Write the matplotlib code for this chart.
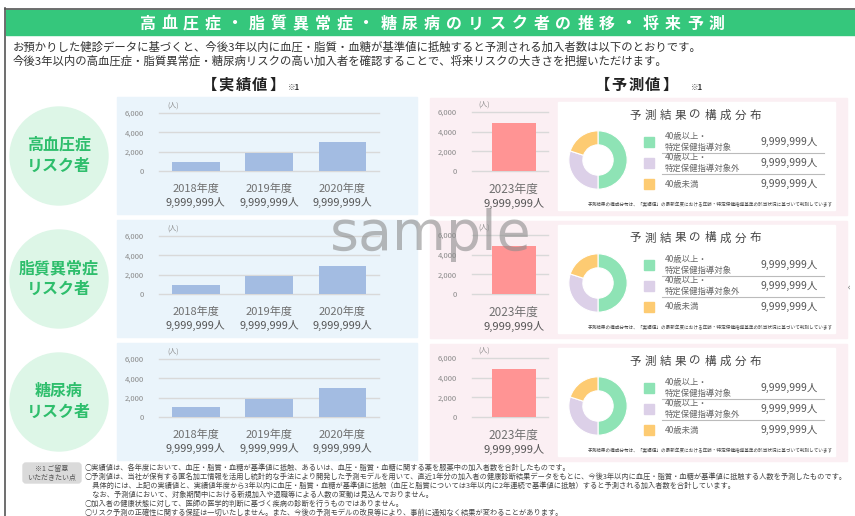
import matplotlib.pyplot as plt
from matplotlib.patches import Rectangle, Circle, FancyBboxPatch

plt.rcParams['font.family'] = ['Noto Sans CJK JP', 'DejaVu Sans']

W, H = 855, 516

# ---- data ----
title = '高血圧症・脂質異常症・糖尿病のリスク者の推移・将来予測'
intro = ['お預かりした健診データに基づくと、今後3年以内に血圧・脂質・血糖が基準値に抵触すると予測される加入者数は以下のとおりです。',
         '今後3年以内の高血圧症・脂質異常症・糖尿病リスクの高い加入者を確認することで、将来リスクの大きさを把握いただけます。']
risk_names = ['高血圧症', '脂質異常症', '糖尿病']
years = ['2018年度', '2019年度', '2020年度']
forecast_year = '2023年度'
hypertension_actual = [950, 1900, 2950]
dyslipidemia_actual = [900, 1900, 2900]
diabetes_actual = [1000, 1900, 2950]
forecast_values = [4850, 4850, 4850]
actual_counts = ['9,999,999人', '9,999,999人', '9,999,999人']
forecast_count = '9,999,999人'
yticks = [0, 2000, 4000, 6000]
mix_labels = ['40歳以上・\n特定保健指導対象', '40歳以上・\n特定保健指導対象外', '40歳未満']
mix_shares = [50, 30, 20]
mix_counts = ['9,999,999人', '9,999,999人', '9,999,999人']
mix_colors = ['#8EE3B5', '#DCD0E8', '#FDCB72']
mix_note = '予測結果の構成分布は、「実績値」の最新年度における年齢・特定保健指導基準の該当状況に基づいて判別しています'
notes = ['○実績値は、各年度において、血圧・脂質・血糖が基準値に抵触、あるいは、血圧・脂質・血糖に関する薬を服薬中の加入者数を合計したものです。',
         '○予測値は、当社が保有する匿名加工情報を活用し統計的な手法により開発した予測モデルを用いて、直近1年分の加入者の健康診断結果データをもとに、今後3年以内に血圧・脂質・血糖が基準値に抵触する人数を予測したものです。',
         '　具体的には、上記の実績値と、実績値年度から3年以内に血圧・脂質・血糖が基準値に抵触（血圧と脂質については3年以内に2年連続で基準値に抵触）すると予測される加入者数を合計しています。',
         '　なお、予測値において、対象期間中における新規加入や退職等による人数の変動は見込んでおりません。',
         '○加入者の健康状態に対して、医師の医学的判断に基づく疾病の診断を行うものではありません。',
         '○リスク予測の正確性に関する保証は一切いたしません。また、今後の予測モデルの改良等により、事前に通知なく結果が変わることがあります。']
actual_rows = [hypertension_actual, dyslipidemia_actual, diabetes_actual]

fig = plt.figure(figsize=(8.55, 5.16), dpi=100)
bg = fig.add_axes([0, 0, 1, 1])
bg.set_xlim(0, W)
bg.set_ylim(H, 0)
bg.axis('off')


def box(x0, y0, x1, y1):
    # axes placed in pixel coords (top-left origin)
    return fig.add_axes([x0 / W, 1 - y1 / H, (x1 - x0) / W, (y1 - y0) / H])


def spaced(x, y, s, step, **kw):
    x0 = x - step * (len(s) - 1) / 2
    for i, ch in enumerate(s):
        bg.text(x0 + i * step, y, ch, ha='center', va='center', **kw)


def style_bar_axes(ax):
    ax.set_ylim(0, 6000)
    ax.set_yticks(yticks, [f'{v:,}' for v in yticks])
    ax.yaxis.grid(True, color='#D9D9D9', lw=1)
    for gl in ax.get_ygridlines():
        gl.set_clip_on(False)
    ax.set_axisbelow(True)
    ax.tick_params(axis='y', length=0, pad=11, labelsize=5.5, labelcolor='#8A8A8A')
    ax.set_xticks([])
    for s in ax.spines.values():
        s.set_visible(False)
    ax.patch.set_alpha(0)


# frame and header
bg.plot([5, 5], [8, H], color='#555555', lw=1.2)
bg.plot([5, W], [8.5, 8.5], color='#555555', lw=1.2)
bg.add_patch(Rectangle((6, 10), W - 6, 25, color='#35C77C'))
spaced(432, 23.5, title, 21.9, fontsize=11.5, color='white', fontweight='bold')

for i, line in enumerate(intro):
    bg.text(13, 47 + 14 * i, line, fontsize=8.2, color='#333333', va='center')

spaced(243, 85, '【実績値】', 17, fontsize=11, color='#222222', fontweight='bold')
bg.text(294, 87, '※1', fontsize=5.5, color='#333333', fontweight='bold', ha='center', va='center')
spaced(636, 85, '【予測値】', 17, fontsize=11, color='#222222', fontweight='bold')
bg.text(697, 87, '※1', fontsize=5.5, color='#333333', fontweight='bold', ha='center', va='center')

for r in range(3):
    dy = 123 * r
    # left circle
    bg.add_patch(Circle((59, 156 + dy), 49, color='#DDF6E7'))
    bg.text(59, 145 + dy, risk_names[r], fontsize=11.5, color='#2EBE6C', fontweight='bold',
            ha='center', va='center')
    bg.text(59, 166 + dy, 'リスク者', fontsize=11.5, color='#2EBE6C', fontweight='bold',
            ha='center', va='center')

    # panels
    bg.add_patch(Rectangle((117, 97 + dy), 300, 117, color='#EAF4FB'))
    bg.add_patch(Rectangle((430, 98 + dy), 417, 117, color='#FBEFF3'))
    bg.add_patch(Rectangle((558, 102 + dy), 277, 108, color='white'))

    # actual bars
    ax = box(159, 113 + dy, 379, 171 + dy)
    vals = actual_rows[r]
    ax.bar(range(len(vals)), vals, width=0.65, color='#A3BCE2')
    ax.set_xlim(-0.5, len(vals) - 0.5)
    style_bar_axes(ax)
    for i, (yr, cnt) in enumerate(zip(years, actual_counts)):
        ax.text(i, -0.31, yr, transform=ax.get_xaxis_transform(), ha='center', va='center',
                fontsize=8, color='#707070')
        ax.text(i, -0.55, cnt, transform=ax.get_xaxis_transform(), ha='center', va='center',
                fontsize=7.8, color='#555555')
    bg.text(167, 106 + dy, '(人)', fontsize=5, color='#8A8A8A', va='center')

    # forecast bar
    ax = box(472, 112 + dy, 548, 171 + dy)
    ax.bar([0], [forecast_values[r]], width=0.58, color='#FF9494')
    ax.set_xlim(-0.55, 0.45)
    style_bar_axes(ax)
    ax.text(0, -0.31, forecast_year, transform=ax.get_xaxis_transform(), ha='center', va='center',
            fontsize=8.5, color='#707070')
    ax.text(0, -0.55, forecast_count, transform=ax.get_xaxis_transform(), ha='center', va='center',
            fontsize=8, color='#555555')
    bg.text(478, 105 + dy, '(人)', fontsize=5, color='#8A8A8A', va='center')

    # donut
    ax = box(563, 125 + dy, 633, 195 + dy)
    ax.pie(mix_shares, colors=mix_colors, startangle=90, counterclock=False, radius=1,
           wedgeprops=dict(width=0.48, edgecolor='white', linewidth=0.8))
    ax.set_xlim(-1.2, 1.2)
    ax.set_ylim(-1.2, 1.2)
    ax.set_aspect('equal')

    spaced(695, 115 + dy, '予測結果の構成分布', 15, fontsize=8.3, color='#444444')
    for k, (lab, cnt, col) in enumerate(zip(mix_labels, mix_counts, mix_colors)):
        yk = 142 + 21 * k + dy
        bg.add_patch(Rectangle((644, yk - 5), 10, 10, color=col))
        bg.text(665, yk, lab, fontsize=6, color='#666666', va='center', linespacing=1.15)
        bg.text(818, yk, cnt, fontsize=7.5, color='#555555', va='center', ha='right')
    for ys in (152.5, 173.5):
        bg.plot([662, 824], [ys + dy, ys + dy], color='#BBBBBB', lw=0.8)
    bg.text(710, 204 + dy, mix_note, fontsize=3.3, color='#444444', ha='center', va='center')

bg.text(849, 287, '‹', fontsize=6, color='#555555', ha='center', va='center')

# footnotes
bg.add_patch(FancyBboxPatch((23, 463), 58, 20, boxstyle='round,pad=0,rounding_size=3',
                            color='#DADADA'))
bg.text(52, 469, '※1 ご留意', fontsize=5, color='#555555', ha='center', va='center')
bg.text(52, 477, 'いただきたい点', fontsize=5, color='#555555', ha='center', va='center')
for i, line in enumerate(notes):
    bg.text(85, 468 + 8.9 * i, line, fontsize=5.2, color='#444444', va='center')

fig.text(431 / W, 1 - 250 / H, 'sample', fontsize=40, color='#8C8C8C', alpha=0.6,
         family='DejaVu Sans', ha='center', va='baseline', zorder=10)

fig.savefig('out.png', dpi=100)
